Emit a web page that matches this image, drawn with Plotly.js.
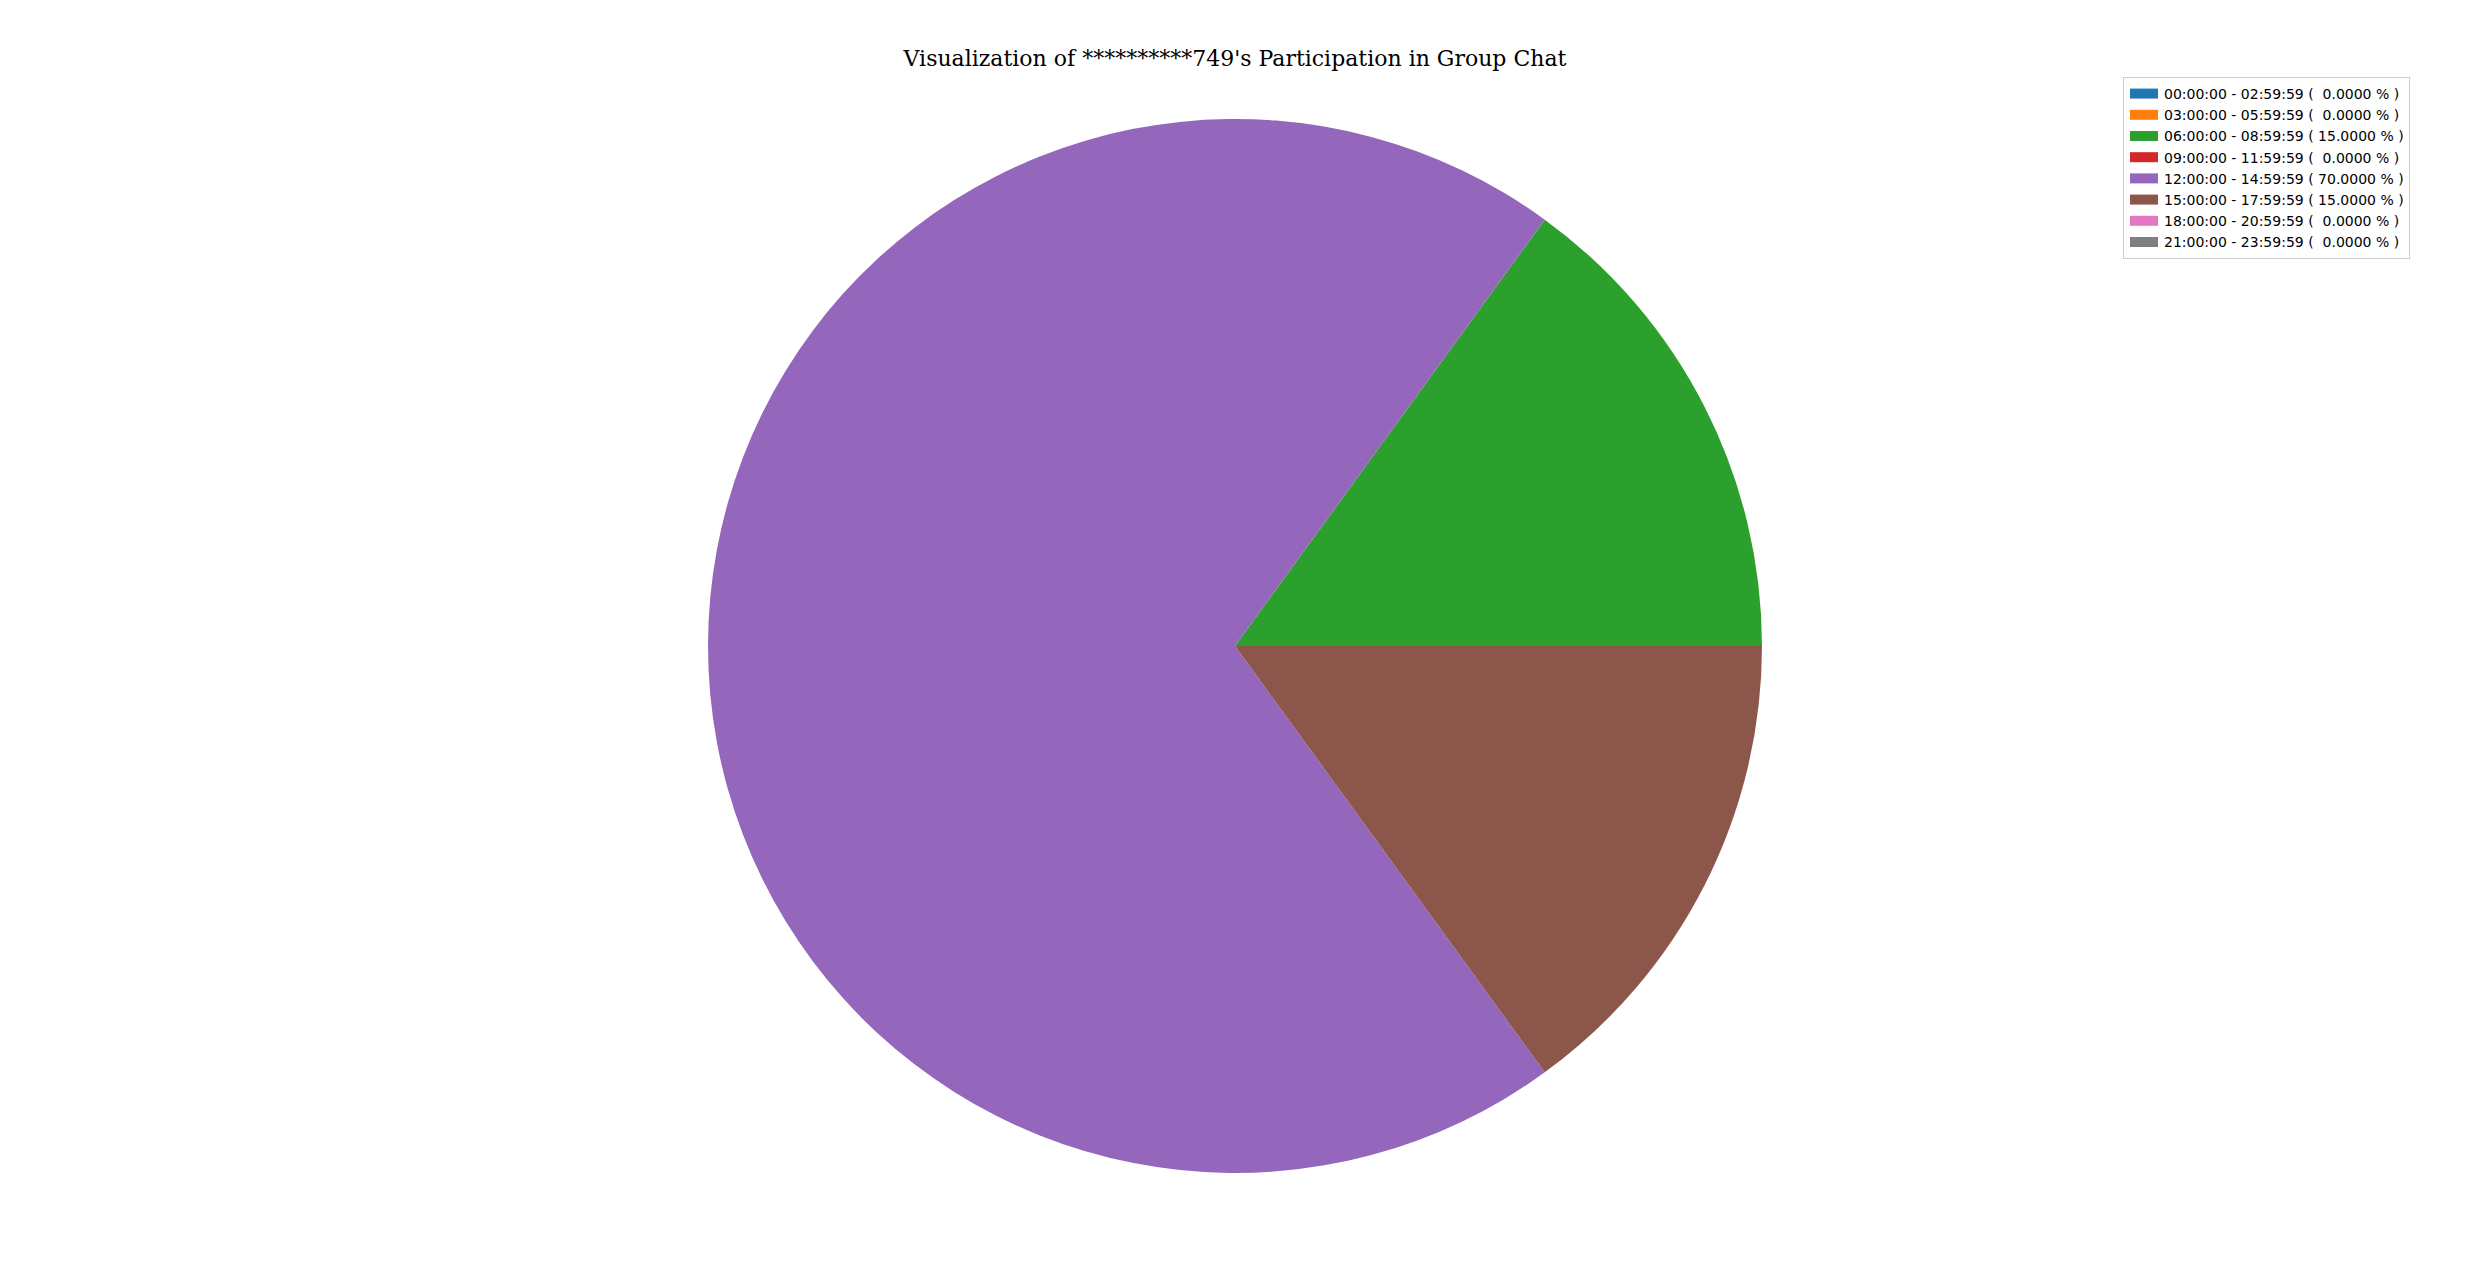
<!DOCTYPE html>
<html>
<head>
<meta charset="utf-8">
<script src="https://cdn.plot.ly/plotly-3.0.1.min.js"></script>
<style>
	body { margin: 0; background: #fff; }
	#pieChart { width: 2470px; height: 1270px; }
</style>
</head>
<body>
<div id="pieChart"></div>
<script>
var periods = ["00:00:00 - 02:59:59", "03:00:00 - 05:59:59", "06:00:00 - 08:59:59", "09:00:00 - 11:59:59",
	"12:00:00 - 14:59:59", "15:00:00 - 17:59:59", "18:00:00 - 20:59:59", "21:00:00 - 23:59:59"]
var shares = [0, 0, 15, 0, 70, 15, 0, 0]
var colors = ["#1f77b4", "#ff7f0e", "#2ca02c", "#d62728", "#9467bd", "#8c564b", "#e377c2", "#7f7f7f"]
var chartTitle = "Visualization of **********749's Participation in Group Chat"

function makeLabels(periods, shares){
	return periods.map((period, i) => {
		let pct = shares[i].toFixed(4)
		// pad like "%7.4f", nbsp so the spaces survive in svg
		while(pct.length < 7){
			pct = "\u00a0" + pct
		}
		return period + " ( " + pct + " % )"
	})
}

function plotChart(labels, values){
	var data = [{
		type: 'pie',
		labels: labels,
		values: values,
		sort: false,
		direction: 'counterclockwise',
		rotation: 90,
		textinfo: 'none',
		hoverinfo: 'skip',
		marker: {colors: colors, line: {width: 0}},
		domain: {x: [0, 1], y: [0.0764, 0.9063]}
	}];

	const layout = {
		width: 2470,
		height: 1270,
		margin: {l: 0, r: 0, t: 0, b: 0, autoexpand: false},
		paper_bgcolor: '#fff',
		title: {
			text: chartTitle,
			font: {family: 'DejaVu Serif', size: 22, color: '#000'},
			x: 0.5, xref: 'paper', xanchor: 'center',
			y: 1 - 58 / 1270, yref: 'container', yanchor: 'middle'
		},
		showlegend: true,
		legend: {
			x: 2123 / 2470, xanchor: 'left',
			y: 1 - 77 / 1270, yanchor: 'top',
			bgcolor: '#fff',
			bordercolor: '#cccccc',
			borderwidth: 1,
			font: {family: 'DejaVu Sans', size: 14, color: '#000'},
			traceorder: 'normal'
		}
	};

	Plotly.newPlot('pieChart', data, layout, {staticPlot: true, displayModeBar: false}).then(stretchSwatches)
}

// matplotlib style wide legend patches instead of plotly's small squares
function stretchSwatches(){
	document.querySelectorAll('#pieChart .legendpoints path').forEach((p) => {
		p.setAttribute('d', 'M14,5H-14V-5H14Z')
	})
}

plotChart(makeLabels(periods, shares), shares)
</script>
</body>
</html>
